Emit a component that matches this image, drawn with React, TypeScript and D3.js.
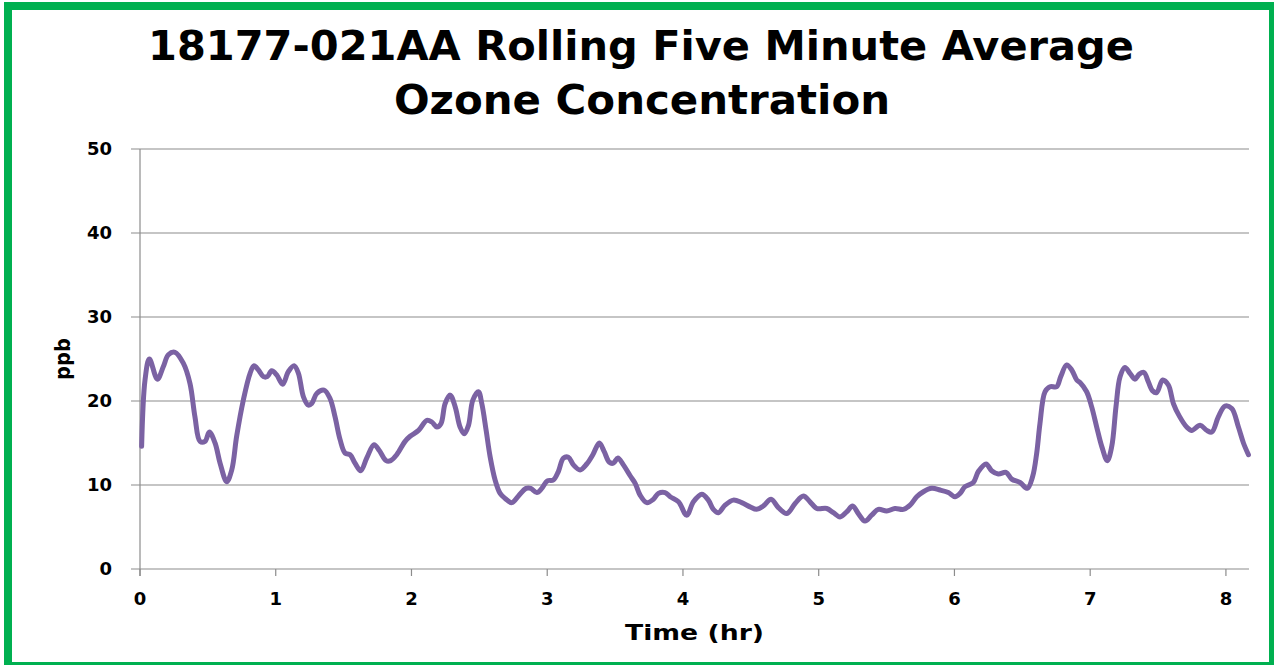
import React from "react";
import * as d3 from "d3";

const titleLines = ["18177-021AA Rolling Five Minute Average", "Ozone Concentration"];
const xLabel = "Time (hr)";
const yLabel = "ppb";
const xTicks = [0, 1, 2, 3, 4, 5, 6, 7, 8];
const yTicks = [0, 10, 20, 30, 40, 50];

const timeHr = [
  0.012, 0.037, 0.069, 0.128, 0.172, 0.209, 0.258, 0.319, 0.368, 0.405, 0.442, 0.479, 0.511, 0.553,
  0.59, 0.639, 0.676, 0.712, 0.761, 0.811, 0.84, 0.872, 0.909, 0.938, 0.97, 1.007, 1.051, 1.093,
  1.135, 1.167, 1.204, 1.241, 1.265, 1.302, 1.356, 1.4, 1.437, 1.474, 1.511, 1.548, 1.584, 1.626,
  1.67, 1.724, 1.763, 1.813, 1.847, 1.891, 1.953, 1.99, 2.052, 2.113, 2.15, 2.187, 2.217, 2.248,
  2.285, 2.322, 2.358, 2.388, 2.42, 2.452, 2.493, 2.518, 2.55, 2.579, 2.616, 2.653, 2.69, 2.739,
  2.788, 2.844, 2.879, 2.923, 2.96, 3.001, 3.045, 3.082, 3.119, 3.156, 3.193, 3.242, 3.291, 3.336,
  3.384, 3.419, 3.458, 3.487, 3.52, 3.561, 3.611, 3.648, 3.684, 3.733, 3.782, 3.819, 3.868, 3.906,
  3.967, 4.028, 4.077, 4.139, 4.187, 4.224, 4.261, 4.31, 4.371, 4.433, 4.494, 4.543, 4.592, 4.649,
  4.703, 4.765, 4.826, 4.887, 4.936, 4.986, 5.059, 5.108, 5.157, 5.206, 5.25, 5.292, 5.341, 5.39,
  5.439, 5.501, 5.562, 5.624, 5.673, 5.722, 5.771, 5.833, 5.894, 5.955, 6.004, 6.041, 6.078, 6.139,
  6.176, 6.233, 6.274, 6.323, 6.38, 6.422, 6.483, 6.537, 6.576, 6.606, 6.63, 6.667, 6.704, 6.753,
  6.783, 6.827, 6.864, 6.901, 6.925, 6.974, 7.011, 7.048, 7.085, 7.126, 7.159, 7.19, 7.22, 7.256,
  7.293, 7.33, 7.362, 7.396, 7.428, 7.46, 7.49, 7.534, 7.576, 7.613, 7.657, 7.711, 7.748, 7.81,
  7.859, 7.896, 7.944, 7.993, 8.043, 8.092, 8.129, 8.166,
];

const ozonePpb = [
  14.6, 22.5, 25.0, 22.6, 24.1, 25.5, 25.8, 24.5, 22.1, 18.1, 15.2, 15.2, 16.3, 15.0,
  12.6, 10.4, 11.8, 15.8, 20.1, 23.3, 24.2, 23.7, 22.9, 22.9, 23.6, 23.1, 22.0, 23.5,
  24.2, 23.3, 20.5, 19.5, 19.7, 20.9, 21.3, 20.3, 18.1, 15.4, 13.8, 13.6, 12.6, 11.7,
  13.2, 14.8, 14.1, 12.9, 12.9, 13.6, 15.2, 15.8, 16.5, 17.7, 17.5, 16.9, 17.3, 19.7,
  20.7, 19.3, 16.9, 16.1, 17.1, 20.1, 21.1, 19.7, 16.5, 13.4, 10.6, 9.0, 8.4, 7.9,
  8.7, 9.6, 9.6, 9.1, 9.6, 10.5, 10.6, 11.6, 13.2, 13.3, 12.4, 11.8, 12.5, 13.6,
  15.0, 14.0, 12.7, 12.6, 13.2, 12.4, 11.1, 10.2, 8.8, 7.9, 8.3, 9.0, 9.1, 8.6,
  8.0, 6.4, 8.0, 8.9, 8.2, 7.1, 6.7, 7.6, 8.2, 7.9, 7.4, 7.1, 7.5, 8.3,
  7.3, 6.6, 7.8, 8.7, 8.0, 7.2, 7.2, 6.7, 6.2, 6.8, 7.5, 6.6, 5.7, 6.4,
  7.1, 6.9, 7.2, 7.1, 7.6, 8.6, 9.2, 9.6, 9.4, 9.1, 8.6, 9.0, 9.8, 10.3,
  11.6, 12.5, 11.7, 11.3, 11.5, 10.7, 10.3, 9.6, 11.0, 13.8, 17.3, 21.1, 21.7, 21.7,
  22.9, 24.3, 23.7, 22.5, 22.2, 21.1, 19.3, 16.9, 14.6, 12.9, 14.6, 19.3, 22.9, 24.0,
  23.3, 22.6, 23.2, 23.4, 22.3, 21.2, 21.0, 22.5, 21.9, 19.7, 18.2, 16.9, 16.5, 17.1,
  16.5, 16.3, 18.1, 19.4, 19.1, 16.9, 15.0, 13.6,
];

const W = 1274;
const H = 665;
const FONT = "'DejaVu Sans', 'Open Sans', sans-serif";

export default function App() {
  const x = d3.scaleLinear().domain([0, 8.17]).range([140, 1249]);
  const y = d3.scaleLinear().domain([0, 50]).range([569, 149]);
  const pts = timeHr.map((t, i) => [t, ozonePpb[i]] as [number, number]);
  const line = d3
    .line<[number, number]>()
    .x((d) => x(d[0]))
    .y((d) => y(d[1]))
    .curve(d3.curveCatmullRom.alpha(0.5));

  return (
    <svg
      width={W}
      height={H}
      style={{ position: "absolute", left: 0, top: 0, background: "#fff" }}
    >
      <rect x={0} y={0} width={W} height={H} fill="#fff" />
      <rect x={8} y={6} width={1265} height={660} fill="none" stroke="#00b050" strokeWidth={8} />

      <g fontFamily={FONT} fontWeight={700} fill="#000" textAnchor="middle">
        <text x={641} y={60} fontSize={40} textLength={986} lengthAdjust="spacingAndGlyphs">
          {titleLines[0]}
        </text>
        <text x={642} y={114} fontSize={40} textLength={496} lengthAdjust="spacingAndGlyphs">
          {titleLines[1]}
        </text>
      </g>

      {yTicks.map((v) => (
        <g key={"y" + v}>
          <line x1={131} x2={1249} y1={y(v)} y2={y(v)} stroke="#8c8c8c" strokeWidth={1.2} />
          <text
            x={112}
            y={y(v)}
            dy="0.36em"
            textAnchor="end"
            fontFamily={FONT}
            fontWeight={700}
            fontSize={18}
            fill="#000"
          >
            {v}
          </text>
        </g>
      ))}
      <line x1={x(0)} x2={x(0)} y1={149} y2={576} stroke="#8c8c8c" strokeWidth={1.2} />
      {xTicks.map((v) => (
        <g key={"x" + v}>
          <line x1={x(v)} x2={x(v)} y1={569} y2={576} stroke="#8c8c8c" strokeWidth={1.2} />
          <text
            x={x(v)}
            y={605}
            textAnchor="middle"
            fontFamily={FONT}
            fontWeight={700}
            fontSize={18}
            fill="#000"
          >
            {v}
          </text>
        </g>
      ))}

      <path d={line(pts) || ""} fill="none" stroke="#7b62a3" strokeWidth={5} strokeLinejoin="round" strokeLinecap="round" />

      <text
        x={694.5}
        y={640}
        textAnchor="middle"
        fontFamily={FONT}
        fontWeight={700}
        fontSize={22}
        textLength={139}
        lengthAdjust="spacingAndGlyphs"
        fill="#000"
      >
        {xLabel}
      </text>
      <text
        transform={`translate(70, 359) rotate(-90)`}
        textAnchor="middle"
        fontFamily={FONT}
        fontWeight={700}
        fontSize={22}
        textLength={42}
        lengthAdjust="spacingAndGlyphs"
        fill="#000"
      >
        {yLabel}
      </text>
    </svg>
  );
}
